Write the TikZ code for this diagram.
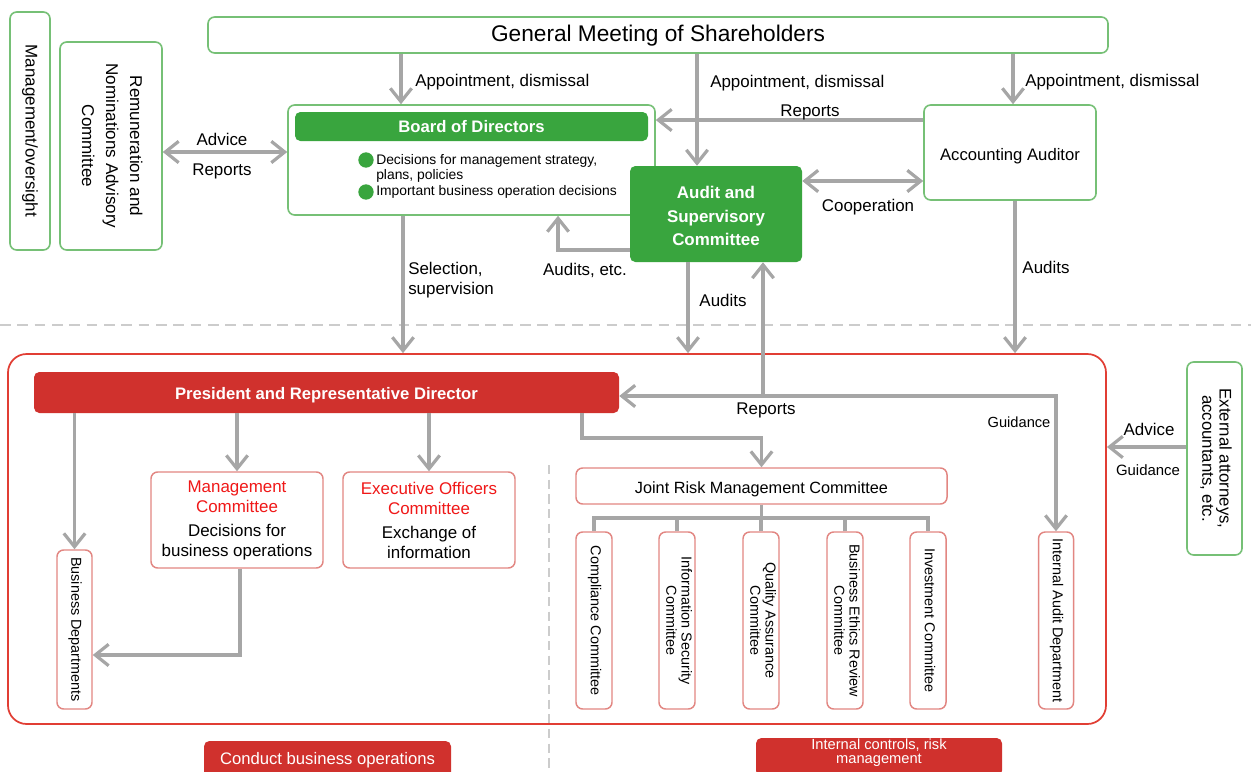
\documentclass[tikz,border=0pt]{standalone}
\usepackage{fontspec}
\setmainfont{Liberation Sans}
\usepackage{graphicx}
\usetikzlibrary{arrows.meta,calc}
\definecolor{gline}{RGB}{118,192,118}
\definecolor{gfill}{RGB}{57,165,62}
\definecolor{rfill}{RGB}{208,49,45}
\definecolor{rline}{RGB}{226,134,130}
\definecolor{fline}{RGB}{225,62,52}
\definecolor{agray}{RGB}{166,166,166}
\definecolor{dgray}{RGB}{204,204,204}
\definecolor{rtext}{RGB}{240,24,24}
\newcommand\fs[2]{\fontsize{#1}{#2}\selectfont}
\newcommand\vtxt[2]{\rotatebox{-90}{\fs{#1}{11.5}\begin{tabular}{@{}c@{}}#2\end{tabular}}}
\newcommand\dropbox[2]{\raisebox{-#1}[\height][\depth]{\begin{tabular}{@{}c@{}}#2\end{tabular}}}
\tikzset{
 sz/.style 2 args={minimum width=#1*0.75pt, minimum height=#2*0.75pt},
 gbox/.style={draw=gline, line width=1.2pt, rounded corners=5pt, fill=white, inner sep=0pt, align=center},
 gsolid/.style={fill=gfill, rounded corners=4pt, inner sep=0pt, text=white, align=center, font=\bfseries\fs{12.7}{17.6}},
 rbox/.style={draw=rline, line width=1.1pt, rounded corners=5pt, fill=white, inner sep=0pt, align=center},
 rsolid/.style={fill=rfill, rounded corners=4pt, inner sep=0pt, text=white, align=center},
 cbox/.style={rbox, sz={36}{177}},
 arr/.style={draw=agray, line width=2.4pt, -{Straight Barb[length=10pt,width=16pt]}},
 darr/.style={draw=agray, line width=2.4pt, {Straight Barb[length=10pt,width=16pt]}-{Straight Barb[length=10pt,width=16pt]}},
 conn/.style={draw=agray, line width=2.4pt},
 lbl/.style={inner sep=0pt, font=\fs{12.7}{15}, yshift=-1.5pt},
 bullet/.style={circle, fill=gfill, inner sep=0pt, minimum size=11.5pt},
}
\begin{document}
\begin{tikzpicture}[x=0.75pt,y=-0.75pt]
\useasboundingbox (0,0) rectangle (1251,771);
\clip (0,0) rectangle (1251,771);
\fill[white] (0,0) rectangle (1251,771);

% dashed separators
\draw[dgray, line width=2.2pt, dash pattern=on 8pt off 5pt] (0,325) -- (1251,325);
\draw[dgray, line width=1.5pt, dash pattern=on 7pt off 4pt] (549,465) -- (549,771);

% outer red frame
\node[draw=fline, line width=1.3pt, rounded corners=14pt, sz={1098}{370}, inner sep=0pt] (frame) at (557,539) {};

% top part
\node[gbox, sz={40}{238}] (mo) at (30,131) {\rotatebox{-90}{\fs{12.7}{15}Management/oversight}};
\node[gbox, sz={102}{208}] (rem) at (111,146) {\rotatebox{-90}{\fs{12.8}{18}\begin{tabular}{@{}c@{}}Remuneration and\\Nominations Advisory\\Committee\end{tabular}}};
\node[gbox, sz={900}{36}, font=\fs{17}{20}] (gm) at (658,35) {\dropbox{0.8pt}{General Meeting of Shareholders}};

\node[gbox, sz={367}{110}] (bod) at (471.5,160) {};
\node[gsolid, sz={353}{29}, font=\bfseries\fs{12.5}{15}] (bodbar) at (471.5,126.5) {\dropbox{1.3pt}{Board of Directors}};
\node[bullet] (b1) at (366,160) {};
\node[bullet] (b2) at (366,192) {};
\node[lbl, font=\fs{10.4}{11.8}, anchor=west, align=left, yshift=0.5pt] (btext) at (376,175) {Decisions for management strategy,\\plans, policies\\Important business operation decisions};

\node[gsolid, sz={172}{96}] (asc) at (716,214) {\dropbox{2.5pt}{Audit and\\Supervisory\\Committee}};
\node[gbox, sz={172}{95}, font=\fs{12.5}{15}] (aa) at (1010,152.5) {\dropbox{3pt}{Accounting Auditor}};

% lower part
\node[rsolid, sz={585}{41}, font=\bfseries\fs{12.5}{15}] (pres) at (326.5,392.5) {\dropbox{2pt}{President and Representative Director}};
\node[rbox, sz={35}{159}] (bd) at (74.5,629.5) {\vtxt{10.8}{Business Departments}};
\node[rbox, sz={172}{96}, font=\fs{12.7}{15}] (mc) at (237,520) {\textcolor{rtext}{Management}\\\textcolor{rtext}{Committee}\\[3pt]Decisions for\\business operations};
\node[rbox, sz={172}{96}, font=\fs{12.7}{15}] (eoc) at (429,520) {\textcolor{rtext}{Executive Officers}\\\textcolor{rtext}{Committee}\\[3pt]Exchange of\\information};
\node[rbox, sz={371}{36}, font=\fs{12.2}{15}] (jrm) at (761.5,486) {\dropbox{2.5pt}{Joint Risk Management Committee}};
\node[cbox] (c1) at (594,620.5) {\vtxt{10.8}{Compliance Committee}};
\node[cbox] (c2) at (677,620.5) {\vtxt{10.8}{Information Security\\Committee}};
\node[cbox] (c3) at (761,620.5) {\vtxt{10.8}{Quality Assurance\\Committee}};
\node[cbox] (c4) at (845,620.5) {\vtxt{10.8}{Business Ethics Review\\Committee}};
\node[cbox] (c5) at (928,620.5) {\vtxt{10.8}{Investment Committee}};
\node[rbox, sz={35}{177}] (iad) at (1056,620.5) {\vtxt{10.8}{Internal Audit Department}};
\node[gbox, sz={55}{193}] (ext) at (1214.5,458.5) {\rotatebox{-90}{\fs{12.6}{13}\begin{tabular}{@{}c@{}}External attorneys,\\accountants, etc.\end{tabular}}};

\node[rsolid, sz={247}{38}, font=\fs{12.5}{13}] (bot1) at (327.5,760) {Conduct business operations};
\node[rsolid, sz={246}{38}, font=\fs{11}{10.5}] (bot2) at (879,757) {\raisebox{3pt}[\height][\depth]{\begin{tabular}{@{}c@{}}Internal controls, risk\\management\end{tabular}}};

% connectors, top
\draw[arr] (gm.south -| 401,0) -- (bod.north -| 401,0);
\node[lbl, anchor=west] at (415,80) {Appointment, dismissal};
\draw[arr] (gm.south -| 697,0) -- (asc.north -| 697,0);
\node[lbl, anchor=west] at (710,81) {Appointment, dismissal};
\draw[arr] (gm.south -| 1013,0) -- (aa.north -| 1013,0);
\node[lbl, anchor=west] at (1025,80) {Appointment, dismissal};
\draw[arr] (aa.west |- 0,120) -- (bod.east |- 0,120);
\node[lbl] at (810,110) {Reports};
\draw[darr] (asc.east |- 0,181) -- (aa.west |- 0,181);
\node[lbl] at (868,205) {Cooperation};
\draw[darr] (rem.east |- 0,152) -- (bod.west |- 0,152);
\node[lbl] at (222,137) {Advice};
\node[lbl] at (222,169) {Reports};
\draw[arr] (asc.west |- 0,250) -| (bod.south -| 558,0);
\node[lbl] at (585,268) {Audits, etc.};
\draw[arr] (bod.south -| 403,0) -- (frame.north -| 403,0);
\node[lbl, anchor=west] at (408,267) {Selection,};
\node[lbl, anchor=west] at (408,288) {supervision};
\draw[arr] (asc.south -| 688,0) -- (frame.north -| 688,0);
\node[lbl] at (723,298) {Audits};
\draw[arr] (aa.south -| 1015,0) -- (frame.north -| 1015,0);
\node[lbl] at (1046,265) {Audits};

% connectors, lower
\coordinate (jn) at (iad.north |- 0,396);
\coordinate (jr) at (763,396);
\draw[darr] (pres.east |- jn) -- (jn) -- (iad.north);
\draw[arr] (jr) -- (asc.south -| jr);
\node[lbl] at (766,408) {Reports};
\node[lbl, font=\fs{11}{13}] at (1019,420) {Guidance};

\draw[arr] (pres.south -| bd.north) -- (bd.north);
\draw[arr] (pres.south -| mc.north) -- (mc.north);
\draw[arr] (pres.south -| eoc.north) -- (eoc.north);
\draw[arr] (mc.south -| 240,0) |- (bd.east |- 0,655);
\draw[arr] (pres.south -| 582,0) |- (jrm.north |- 0,438) -- (jrm.north);

\draw[conn] (jrm.south) -- (jrm.south |- 0,518);
\draw[conn] (c1.north) |- (c5.north |- 0,518) -- (c5.north);
\foreach \c in {c2,c3,c4} \draw[conn] (\c.north) -- (\c.north |- 0,518);

\draw[arr] (ext.west |- 0,447) -- (frame.east |- 0,447);
\node[lbl] at (1149,427) {Advice};
\node[lbl, font=\fs{11.2}{13}] at (1148,468) {Guidance};
\end{tikzpicture}
\end{document}
